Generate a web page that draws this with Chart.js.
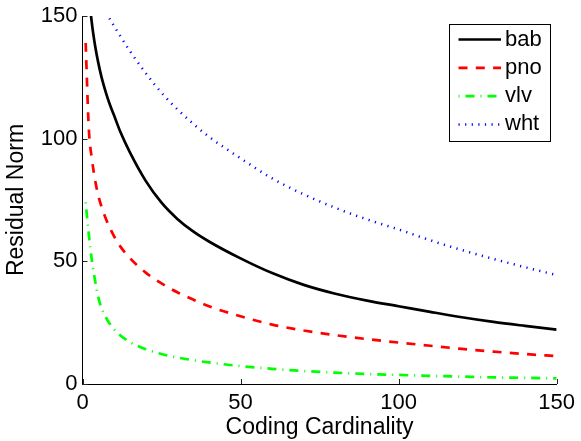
<!DOCTYPE html>
<html><head><meta charset="utf-8">
<script src="https://cdn.jsdelivr.net/npm/chart.js@4"></script>
<style>html,body{margin:0;padding:0;background:#fff}#wrap{width:581px;height:441px}</style>
</head><body><div id="wrap"><canvas id="c" width="581" height="441"></canvas></div>
<script>
const cardinality = [1,2,3,4,5,6,7,8,9,10,12,15,20,25,30,35,40,50,60,70,80,90,100,110,120,130,140,150];
const bab = [181,159.3,146.7,137.8,130.9,125.2,120.5,116.3,112.7,109.4,102.7,94.4,82.8,73.9,67.3,62.2,58.1,51.2,45.2,40.4,36.8,34.0,31.7,29.4,27.2,25.3,23.7,22.2];
const pno = [139,104,91.5,83,76.8,72.3,68.7,65.5,62.7,60.2,56,51.3,45.4,41,37.4,34.4,31.7,27.6,24.2,21.8,19.9,18.3,16.9,15.6,14.3,13.2,12.2,11.4];
const vlv = [74,61,50,42,35.3,31,28.2,25.8,23.9,22.3,19.8,17.1,14.2,12.2,10.8,9.7,8.8,7.3,6.2,5.3,4.6,4.1,3.7,3.3,3.0,2.7,2.5,2.3];
const wht = [168.3,165.4,162.6,159.9,157.3,154.8,152.5,150.2,148,145.9,141.7,135.7,126.7,118.7,112,106.1,100.8,92,83.8,77.3,71.8,67.1,63,58.6,54.6,51,47.6,44.4];
const seriesNames = ['bab','pno','vlv','wht'];
const xTicks = [0,50,100,150];
const yTicks = [0,50,100,150];
const xTitle = 'Coding Cardinality';
const yTitle = 'Residual Norm';

const FONT = "'Liberation Sans', Arial, Helvetica, sans-serif";
const series = [bab, pno, vlv, wht];
const styles = [
  {color:'#000000', width:2.7, dash:[]},
  {color:'#ff0000', width:2.7, dash:[9,8.3]},
  {color:'#00ff00', width:2.7, dash:[1,6,9,6]},
  {color:'#0000ff', width:2.5, dash:[1.2,5.4]}
];

const datasets = series.map((vals, k) => ({
  label: seriesNames[k],
  data: cardinality.map((x, i) => ({x: x, y: vals[i]})),
  borderColor: styles[k].color,
  backgroundColor: styles[k].color,
  borderWidth: styles[k].width,
  borderDash: styles[k].dash,
  borderCapStyle: 'butt',
  pointRadius: 0,
  fill: false,
  cubicInterpolationMode: 'monotone',
  clip: 0
}));

const inwardTicks = {
  id: 'inwardTicks',
  afterDatasetsDraw(chart) {
    const {ctx, chartArea, scales} = chart;
    ctx.save();
    ctx.strokeStyle = '#222';
    ctx.lineWidth = 1;
    ctx.beginPath();
    xTicks.forEach(v => {
      const px = Math.round(scales.x.getPixelForValue(v)) + 0.5;
      ctx.moveTo(px, chartArea.bottom);
      ctx.lineTo(px, chartArea.bottom - 5);
    });
    yTicks.forEach(v => {
      const py = Math.round(scales.y.getPixelForValue(v)) + 0.5;
      ctx.moveTo(chartArea.left, py);
      ctx.lineTo(chartArea.left + 5, py);
    });
    ctx.stroke();
    ctx.restore();
  }
};

const boxLegend = {
  id: 'boxLegend',
  afterDraw(chart) {
    const {ctx, chartArea} = chart;
    const w = 101, h = 117;
    const left = Math.round(chartArea.right - 7 - w) + 0.5;
    const top = Math.round(chartArea.top + 7.5) + 0.5;
    ctx.save();
    ctx.fillStyle = '#fff';
    ctx.fillRect(left, top, w, h);
    ctx.strokeStyle = '#000';
    ctx.lineWidth = 1;
    ctx.setLineDash([]);
    ctx.strokeRect(left, top, w, h);
    chart.data.datasets.forEach((ds, i) => {
      const y = top + 15 + i * 28.3;
      ctx.beginPath();
      ctx.strokeStyle = ds.borderColor;
      ctx.lineWidth = ds.borderWidth;
      ctx.lineCap = 'butt';
      ctx.setLineDash(ds.borderDash);
      ctx.moveTo(left + 9, y);
      ctx.lineTo(left + 51.5, y);
      ctx.stroke();
      ctx.setLineDash([]);
      ctx.fillStyle = '#000';
      ctx.font = '22px ' + FONT;
      ctx.textAlign = 'left';
      ctx.textBaseline = 'middle';
      ctx.fillText(ds.label, left + 55.5, y);
    });
    ctx.restore();
  }
};

new Chart(document.getElementById('c'), {
  type: 'line',
  data: {datasets},
  options: {
    responsive: false,
    animation: false,
    devicePixelRatio: 1,
    layout: {padding: {left: 0, right: 20, top: 12, bottom: 0}},
    plugins: {legend: {display: false}, tooltip: {enabled: false}},
    scales: {
      x: {
        type: 'linear', min: 0, max: 150,
        afterBuildTicks: s => { s.ticks = xTicks.map(v => ({value: v})); },
        ticks: {font: {family: FONT, size: 22}, color: '#000', padding: 6, maxRotation: 0, autoSkip: false},
        grid: {display: false, drawTicks: false},
        border: {display: true, color: '#000', width: 1},
        title: {display: true, text: xTitle, font: {family: FONT, size: 23}, color: '#000', padding: {top: 0, bottom: 0}},
        afterFit: s => { s.height = 57; }
      },
      y: {
        type: 'linear', min: 0, max: 150,
        afterBuildTicks: s => { s.ticks = yTicks.map(v => ({value: v})); },
        ticks: {font: {family: FONT, size: 22, lineHeight: 1}, color: '#000', padding: 5, autoSkip: false},
        grid: {display: false, drawTicks: false},
        border: {display: true, color: '#000', width: 1},
        title: {display: true, text: yTitle, font: {family: FONT, size: 23}, color: '#000', padding: {top: 3, bottom: 0}},
        afterFit: s => { s.width = 82.5; }
      }
    }
  },
  plugins: [inwardTicks, boxLegend]
});
</script>
</body></html>
